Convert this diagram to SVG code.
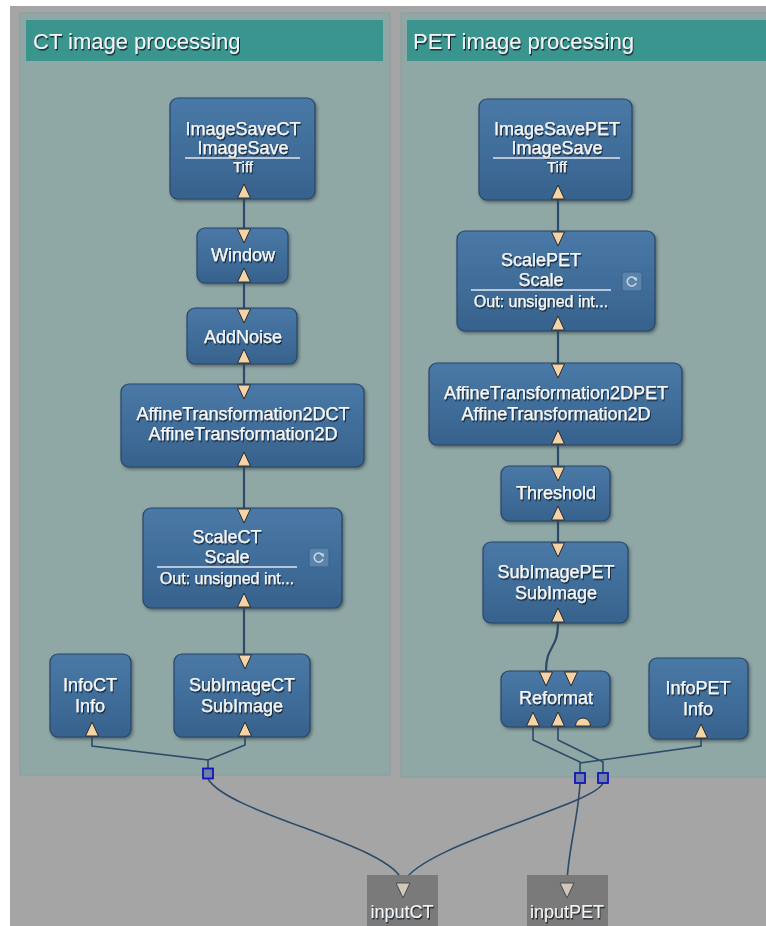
<svg xmlns="http://www.w3.org/2000/svg" xmlns:xlink="http://www.w3.org/1999/xlink" width="766" height="926" viewBox="0 0 766 926">
<defs>
<linearGradient id="ng" x1="0" y1="0" x2="0" y2="1">
<stop offset="0" stop-color="#4a79a7"/>
<stop offset="1" stop-color="#37628d"/>
</linearGradient>
<filter id="ns" x="-10%" y="-10%" width="130%" height="130%">
<feDropShadow dx="1.5" dy="2" stdDeviation="1.5" flood-color="#33423f" flood-opacity="0.6"/>
</filter>
<filter id="ts" x="-10%" y="-20%" width="130%" height="150%">
<feDropShadow dx="1" dy="1.5" stdDeviation="0.4" flood-color="#101a26" flood-opacity="0.9"/>
</filter>
<path id="tu" d="M-6.5,0 L6.5,0 L0,-14 Z" fill="#f4d4a6" stroke="#2a2a2a" stroke-width="1"/>
<path id="td" d="M-6.5,0 L6.5,0 L0,14 Z" fill="#f4d4a6" stroke="#2a2a2a" stroke-width="1"/>
<path id="ti" d="M-7,0 L7,0 L0,15 Z" fill="#cfc7ba" stroke="#4a4a4a" stroke-width="1"/>
<g id="rf">
<rect x="0" y="0" width="20" height="19" rx="2" fill="#5a84ab" stroke="#3d6088" stroke-width="1"/>
<path d="M13.5,7 A4.5,4.5 0 1 0 14,11" fill="none" stroke="#c9d6e2" stroke-width="1.6"/>
<path d="M11,6 L15,5.5 L14.5,9.5 Z" fill="#c9d6e2"/>
</g>
</defs>
<style>
.node{fill:url(#ng);stroke:#28466a;stroke-width:1.2;filter:url(#ns)}
.t{font-family:"Liberation Sans",Arial,sans-serif;font-size:18px;fill:#f4f6f8;text-anchor:middle;filter:url(#ts);stroke:#f4f6f8;stroke-width:0.25}
.s{font-size:16px}
.x{font-size:15px}
.h{font-family:"Liberation Sans",Arial,sans-serif;font-size:22px;fill:#f2f4f4;filter:url(#ts)}
.sep{stroke:#dfe6ee;stroke-width:1.3}
.c{fill:none;stroke:#2b4b68;stroke-width:1.6}
.cv{fill:none;stroke:#2b4b68;stroke-width:2.2}
.jn{fill:#6f80aa;stroke:#1515b5;stroke-width:1.8}
.inp{fill:#7a7a7a}
.it{font-family:"Liberation Sans",Arial,sans-serif;font-size:18px;fill:#f4f4f4;text-anchor:middle;filter:url(#ts)}
</style>
<rect x="0" y="0" width="766" height="926" fill="#ffffff"/>
<rect x="10" y="6" width="756" height="920" fill="#a5a5a5"/>
<g id="panel-ct">
<rect x="20" y="13" width="370" height="762" fill="#8fa7a5" stroke="#879f9d" stroke-width="1"/>
<rect x="26" y="20" width="357" height="41" fill="#3a958f"/>
<text class="h" x="33" y="49">CT image processing</text>
</g>
<g id="panel-pet">
<rect x="401" y="13" width="366" height="764" fill="#8fa7a5" stroke="#879f9d" stroke-width="1"/>
<rect x="407" y="20" width="360" height="41" fill="#3a958f"/>
<text class="h" x="413" y="49">PET image processing</text>
</g>
<g id="connectors">
<path class="cv" d="M244,198 V228"/>
<path class="cv" d="M244,283 V308"/>
<path class="cv" d="M244,364 V384"/>
<path class="cv" d="M244,467 V508"/>
<path class="cv" d="M244,608 V654"/>
<path class="c" d="M92,737 V746 L208,760 V769"/>
<path class="c" d="M245,737 V745 L208,760"/>
<path class="c" d="M208,779 C230,815 395,845 403,883"/>
<path class="cv" d="M558,200 V231"/>
<path class="cv" d="M558,331 V363"/>
<path class="cv" d="M558,445 V466"/>
<path class="cv" d="M558,521 V542"/>
<path class="cv" d="M558,623 C558,650 546,645 546,671"/>
<path class="c" d="M533,727 V740 L580,762 V773"/>
<path class="c" d="M558,727 V740 L603,762 V773"/>
<path class="c" d="M701,739 V746 L580,763"/>
<path class="c" d="M603,783 C595,805 420,845 403,883"/>
<path class="c" d="M580,783 C578,820 568,850 567,883"/>
<rect class="jn" x="203" y="768.5" width="10" height="10"/>
<rect class="jn" x="575" y="773" width="10" height="10"/>
<rect class="jn" x="598" y="773" width="10" height="10"/>
</g>
<g id="ImageSaveCT">
<rect class="node" x="170" y="98" width="145" height="101" rx="8"/>
<text class="t" x="243" y="135">ImageSaveCT</text>
<text class="t" x="243" y="154">ImageSave</text>
<line class="sep" x1="185" y1="158" x2="300" y2="158"/>
<text class="t x" x="243" y="172">Tiff</text>
<use href="#tu" x="244" y="198"/>
</g>
<g id="Window">
<rect class="node" x="197" y="228" width="91" height="55" rx="8"/>
<text class="t" x="243" y="261">Window</text>
<use href="#td" x="244" y="229"/>
<use href="#tu" x="244" y="282"/>
</g>
<g id="AddNoise">
<rect class="node" x="187" y="308" width="110" height="56" rx="8"/>
<text class="t" x="243" y="343">AddNoise</text>
<use href="#td" x="244" y="309"/>
<use href="#tu" x="244" y="363"/>
</g>
<g id="AffineTransformation2DCT">
<rect class="node" x="121" y="384" width="243" height="83" rx="8"/>
<text class="t" x="243" y="420">AffineTransformation2DCT</text>
<text class="t" x="243" y="440">AffineTransformation2D</text>
<use href="#td" x="244" y="385"/>
<use href="#tu" x="244" y="466"/>
</g>
<g id="ScaleCT">
<rect class="node" x="143" y="508" width="199" height="100" rx="8"/>
<text class="t" x="227" y="543">ScaleCT</text>
<text class="t" x="227" y="563">Scale</text>
<line class="sep" x1="157" y1="567" x2="297" y2="567"/>
<text class="t s" x="227" y="584">Out: unsigned int...</text>
<use href="#rf" x="309" y="548"/>
<use href="#td" x="244" y="509"/>
<use href="#tu" x="244" y="607"/>
</g>
<g id="InfoCT">
<rect class="node" x="50" y="654" width="81" height="83" rx="8"/>
<text class="t" x="90" y="691">InfoCT</text>
<text class="t" x="90" y="712">Info</text>
<use href="#tu" x="92" y="736"/>
</g>
<g id="SubImageCT">
<rect class="node" x="174" y="654" width="136" height="83" rx="8"/>
<text class="t" x="242" y="691">SubImageCT</text>
<text class="t" x="242" y="712">SubImage</text>
<use href="#td" x="245" y="655"/>
<use href="#tu" x="245" y="736"/>
</g>
<g id="ImageSavePET">
<rect class="node" x="479" y="99" width="153" height="101" rx="8"/>
<text class="t" x="557" y="135">ImageSavePET</text>
<text class="t" x="557" y="154">ImageSave</text>
<line class="sep" x1="493" y1="158" x2="620" y2="158"/>
<text class="t x" x="557" y="172">Tiff</text>
<use href="#tu" x="558" y="199"/>
</g>
<g id="ScalePET">
<rect class="node" x="457" y="231" width="198" height="100" rx="8"/>
<text class="t" x="541" y="266">ScalePET</text>
<text class="t" x="541" y="286">Scale</text>
<line class="sep" x1="471" y1="290" x2="611" y2="290"/>
<text class="t s" x="541" y="307">Out: unsigned int...</text>
<use href="#rf" x="622" y="272"/>
<use href="#td" x="558" y="232"/>
<use href="#tu" x="558" y="330"/>
</g>
<g id="AffineTransformation2DPET">
<rect class="node" x="429" y="363" width="253" height="82" rx="8"/>
<text class="t" x="556" y="399">AffineTransformation2DPET</text>
<text class="t" x="556" y="420">AffineTransformation2D</text>
<use href="#td" x="558" y="364"/>
<use href="#tu" x="558" y="444"/>
</g>
<g id="Threshold">
<rect class="node" x="501" y="466" width="109" height="55" rx="8"/>
<text class="t" x="556" y="499">Threshold</text>
<use href="#td" x="558" y="467"/>
<use href="#tu" x="558" y="520"/>
</g>
<g id="SubImagePET">
<rect class="node" x="483" y="542" width="145" height="81" rx="8"/>
<text class="t" x="556" y="578">SubImagePET</text>
<text class="t" x="556" y="599">SubImage</text>
<use href="#td" x="558" y="543"/>
<use href="#tu" x="558" y="622"/>
</g>
<g id="Reformat">
<rect class="node" x="501" y="671" width="109" height="56" rx="8"/>
<text class="t" x="556" y="704">Reformat</text>
<use href="#td" x="546" y="672"/>
<use href="#td" x="571" y="672"/>
<use href="#tu" x="533" y="726"/>
<use href="#tu" x="558" y="726"/>
<path d="M575.5,726 A7.5,8 0 0 1 590.5,726 Z" fill="#f4d4a6" stroke="#2a2a2a" stroke-width="1"/>
</g>
<g id="InfoPET">
<rect class="node" x="649" y="658" width="99" height="81" rx="8"/>
<text class="t" x="698" y="694">InfoPET</text>
<text class="t" x="698" y="715">Info</text>
<use href="#tu" x="701" y="738"/>
</g>
<g id="inputCT">
<rect class="inp" x="367" y="875" width="71" height="51"/>
<use href="#ti" x="403" y="883"/>
<text class="it" x="402" y="918">inputCT</text>
</g>
<g id="inputPET">
<rect class="inp" x="527" y="875" width="81" height="51"/>
<use href="#ti" x="567" y="883"/>
<text class="it" x="567" y="918">inputPET</text>
</g>
</svg>
